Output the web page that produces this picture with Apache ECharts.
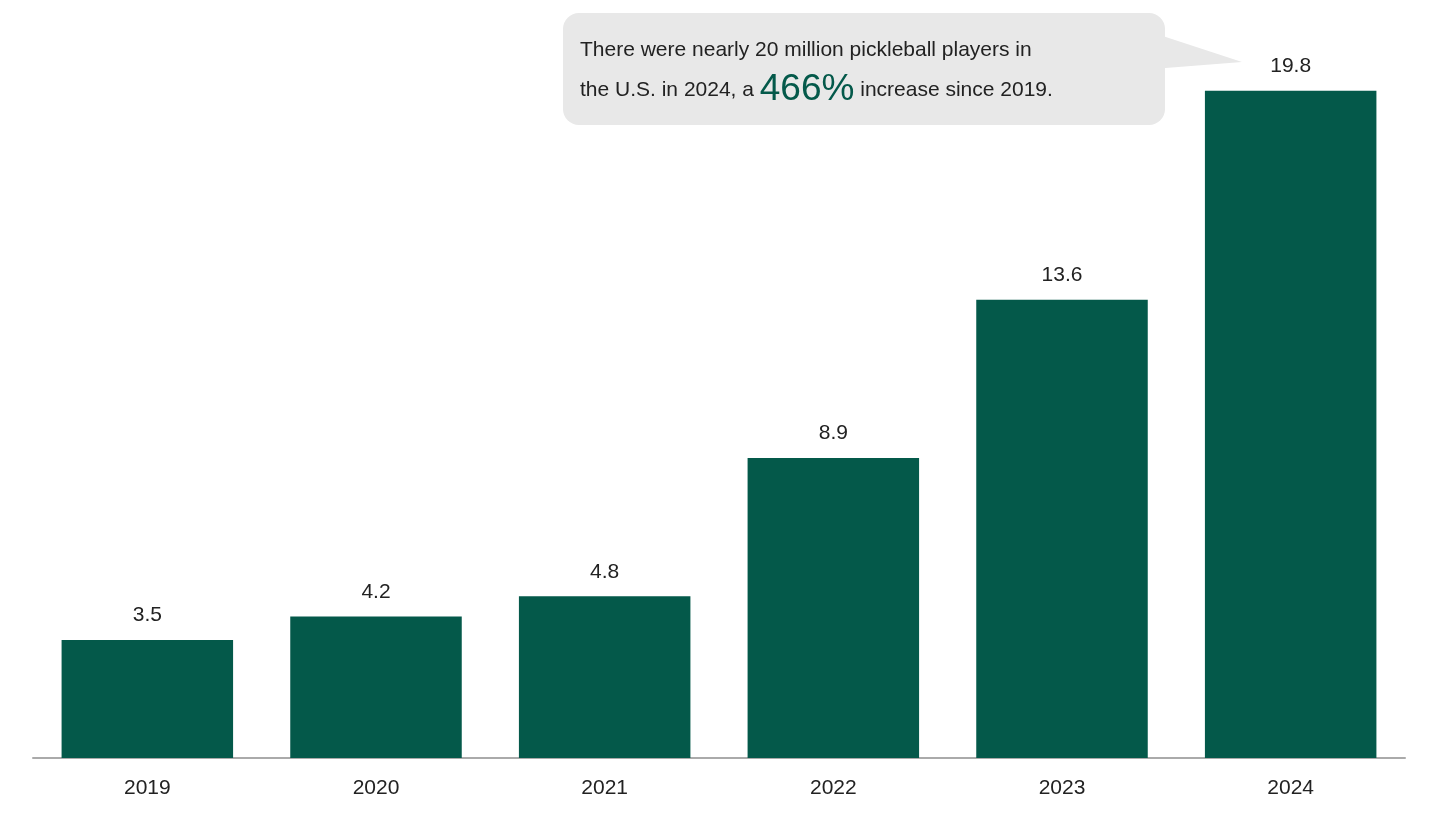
<!DOCTYPE html>
<html><head><meta charset="utf-8">
<script src="https://cdn.jsdelivr.net/npm/echarts@6/dist/echarts.min.js"></script>
<style>html,body{margin:0;padding:0;background:#fff}#c{width:1440px;height:813px}</style>
</head><body><div id="c"></div>
<script>
const years = ['2019','2020','2021','2022','2023','2024'];
const players = [3.5, 4.2, 4.8, 8.9, 13.6, 19.8];
const chart = echarts.init(document.getElementById('c'));
chart.setOption({
  animation:false,
  grid:{left:33,right:35,top:84,bottom:55},
  xAxis:{type:'category',data:years,
    axisLine:{lineStyle:{color:'#aaaaaa',width:2}},axisTick:{show:false},
    axisLabel:{color:'#222',fontSize:21,fontFamily:'Liberation Sans, Arial',margin:20}},
  yAxis:{type:'value',min:0,max:20,show:false,splitLine:{show:false}},
  series:[{type:'bar',data:players,barCategoryGap:'25%',
    itemStyle:{color:'#04594a'},
    label:{show:true,position:'top',distance:14,color:'#222',fontSize:21,fontFamily:'Liberation Sans, Arial',formatter:p=>p.value.toFixed(1)}}],
  graphic:[
    {type:'polygon',shape:{points:[[1120,22],[1242,62],[1140,70]]},style:{fill:'#e8e8e8'}},
    {type:'rect',shape:{x:563,y:13,width:602,height:112,r:16},style:{fill:'#e8e8e8'}},
    {type:'text',left:580,top:30,style:{
      text:'There were nearly 20 million pickleball players in\n{n|the U.S. in 2024, a }{b|466%}{n| increase since 2019.}',
      fill:'#222',font:'21px Liberation Sans, Arial',lineHeight:40,
      rich:{n:{fontSize:21,fontFamily:'Liberation Sans, Arial',fill:'#222'},
            b:{fontSize:37,fontFamily:'Liberation Sans, Arial',fill:'#04594a'}}}}
  ]
});
</script></body></html>
